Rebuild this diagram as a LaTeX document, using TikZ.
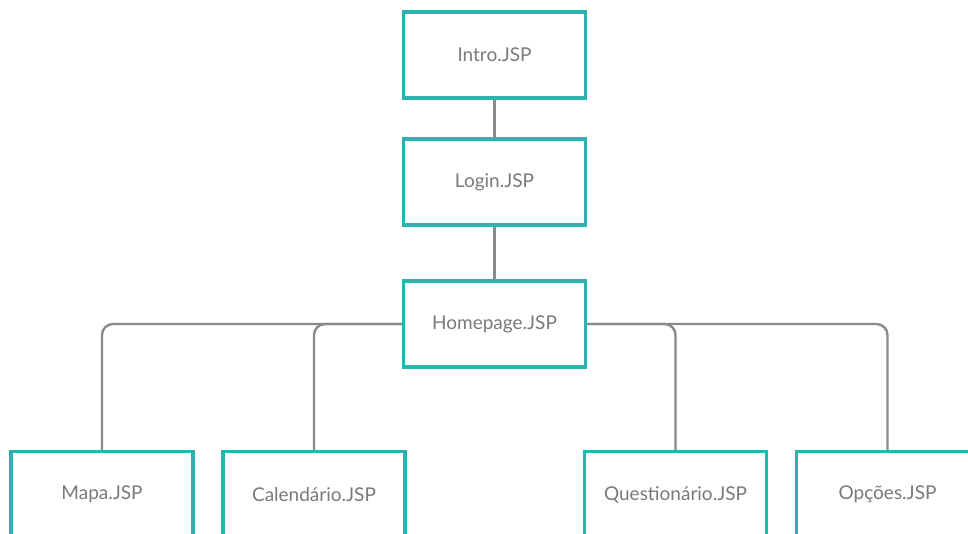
\documentclass[tikz,border=0pt]{standalone}
\usepackage{fontspec}
\setmainfont{Lato}
\definecolor{boxteal}{HTML}{2BB3B0}
\definecolor{linkgray}{HTML}{8A8A8A}
\definecolor{labelgray}{HTML}{7A7A7A}
\begin{document}
\begin{tikzpicture}[x=1pt,y=-1pt,
  page/.style={draw=boxteal, line width=2.2pt, fill=white,
    minimum width=181pt, minimum height=85pt, inner sep=0pt,
    font=\fontsize{19}{23}\selectfont, text=labelgray},
  link/.style={draw=linkgray, line width=2.4pt, rounded corners=11pt}]
  \useasboundingbox (0,0) rectangle (968,533);
  \clip (0,0) rectangle (968,533);
  \fill[white] (0,0) rectangle (968,533);

  % pages
  \node[page] (intro) at (494.5,55)  {Intro.JSP};
  \node[page] (login) at (494.5,182) {Login.JSP};
  \node[page] (home)  at (494.5,324) {Homepage.JSP};
  \node[page] (mapa)  at (102,494.5)   {Mapa.JSP};
  \node[page] (cal)   at (314,494.5)   {Calendário.JSP};
  \node[page] (quest) at (675.5,494.5) {Questionário.JSP};
  \node[page] (opc)   at (887.5,494.5) {Opções.JSP};

  % links
  \draw[link] (intro.south) -- (login.north);
  \draw[link] (login.south) -- (home.north);
  \draw[link] (home.west) -| (mapa.north);
  \draw[link] (home.west) -| (cal.north);
  \draw[link] (home.east) -| (quest.north);
  \draw[link] (home.east) -| (opc.north);

  % redraw borders on top of the link ends
  \foreach \n in {intro,login,home,mapa,cal,quest,opc}
    \draw[boxteal, line width=2.2pt] (\n.north west) rectangle (\n.south east);
\end{tikzpicture}
\end{document}
